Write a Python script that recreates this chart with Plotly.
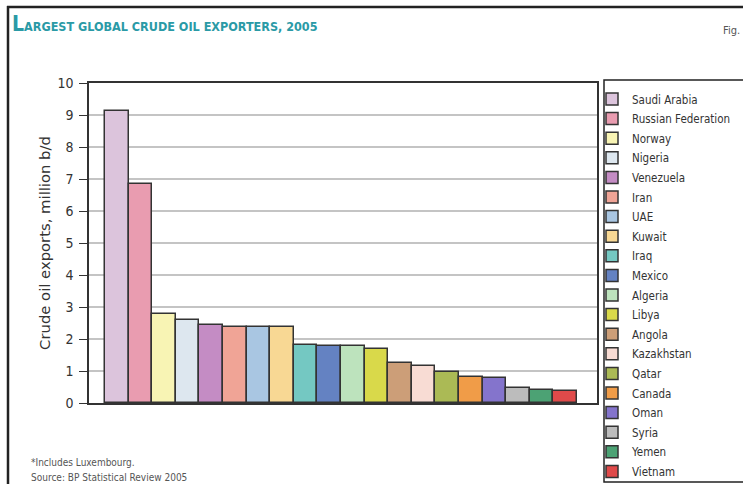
import plotly.graph_objects as go

countries = ["Saudi Arabia", "Russian Federation", "Norway", "Nigeria", "Venezuela", "Iran",
             "UAE", "Kuwait", "Iraq", "Mexico", "Algeria", "Libya", "Angola", "Kazakhstan",
             "Qatar", "Canada", "Oman", "Syria", "Yemen", "Vietnam"]
exports = [9.13, 6.83, 2.78, 2.59, 2.45, 2.38, 2.36, 2.36, 1.81, 1.79, 1.77, 1.69,
           1.24, 1.16, 0.97, 0.82, 0.78, 0.46, 0.42, 0.37]
colors = ["#dcc4dc", "#e99cb0", "#f8f4b4", "#dde7ef", "#c48cc4", "#f0a496", "#a9c6e2",
          "#f8d894", "#74c8c2", "#6482c2", "#bde3bd", "#d9d94a", "#cc9e78", "#f8dcd4",
          "#abba55", "#f09c48", "#8474cc", "#bcbcbc", "#4ca274", "#e04a4a"]
y_ticks = list(range(0, 11))

W, H = 743, 484
L, R, T, B = 89, 146, 83, 81
pw, ph = W - L - R, H - T - B

def px(x):
    return (x - L) / pw

def py(y):
    return (H - B - y) / ph

fig = go.Figure()
for i, (c, v, col) in enumerate(zip(countries, exports, colors)):
    fig.add_trace(go.Bar(
        x=[i], y=[v], name=c, legendgroup=c,
        marker=dict(color=col, line=dict(color="#333333", width=1.5)),
        width=1.0,
    ))

font_cond = "DejaVu Sans Condensed, Liberation Sans Narrow, Arial Narrow, sans-serif"

fig.update_layout(
    width=W, height=H,
    margin=dict(l=L, r=R, t=T, b=B, autoexpand=False),
    paper_bgcolor="white", plot_bgcolor="white",
    bargap=0, barmode="group",
    showlegend=True,
    legend=dict(x=px(592), y=py(84.5), xanchor="left", yanchor="top",
                borderwidth=0, bgcolor="rgba(0,0,0,0)",
                font=dict(family=font_cond, size=11.5, color="#333333"),
                tracegroupgap=0.6, itemwidth=30, maxheight=440),
    xaxis=dict(range=[-1.18, 20.35], showticklabels=False, ticks="",
               showgrid=False, zeroline=False, showline=True, linecolor="#333333",
               linewidth=1.5, mirror=True, fixedrange=True),
    yaxis=dict(range=[0, 10], tickvals=y_ticks, ticks="outside", ticklen=8,
               tickcolor="#333333", tickwidth=1.2, ticklabelstandoff=3,
               showgrid=True, gridcolor="#c4c4c4", gridwidth=2, zeroline=False,
               showline=True, linecolor="#333333", linewidth=1.5, mirror=True,
               fixedrange=True,
               tickfont=dict(family=font_cond, size=14, color="#333333"),
               title=dict(text="Crude oil exports, million b/d", standoff=3,
                          font=dict(family="DejaVu Sans, sans-serif", size=14.8, color="#333333"))),
)

# legend frame
fig.add_shape(type="rect", xref="paper", yref="paper", x0=px(604), x1=px(752), y0=py(80), y1=py(482),
              line=dict(color="#222222", width=1.5), fillcolor="rgba(0,0,0,0)", layer="below")
# outer frame
fig.add_shape(type="line", xref="paper", yref="paper", x0=px(7), x1=px(745), y0=py(7), y1=py(7),
              line=dict(color="#222222", width=2.5))
fig.add_shape(type="line", xref="paper", yref="paper", x0=px(8), x1=px(8), y0=py(6), y1=py(490),
              line=dict(color="#222222", width=2.5))

fig.add_annotation(xref="paper", yref="paper", x=px(10), y=py(38), xanchor="left", yanchor="bottom",
                   showarrow=False,
                   text='<b><span style="font-size:21px">L</span>ARGEST GLOBAL CRUDE OIL EXPORTERS, 2005</b>',
                   font=dict(family=font_cond, size=12.5, color="#2a9aa6"))
fig.add_annotation(xref="paper", yref="paper", x=px(721), y=py(31), xanchor="left", yanchor="middle",
                   showarrow=False, text="Fig.",
                   font=dict(family=font_cond, size=11, color="#555555"))
fig.add_annotation(xref="paper", yref="paper", x=px(29), y=py(462), xanchor="left", yanchor="middle",
                   showarrow=False, text="*Includes Luxembourg.",
                   font=dict(family=font_cond, size=10, color="#555555"))
fig.add_annotation(xref="paper", yref="paper", x=px(29), y=py(477), xanchor="left", yanchor="middle",
                   showarrow=False, text="Source: BP Statistical Review 2005",
                   font=dict(family=font_cond, size=10, color="#555555"))

fig.write_html("out.html", config={"displayModeBar": False},
               post_script="document.body.style.margin='0';")
